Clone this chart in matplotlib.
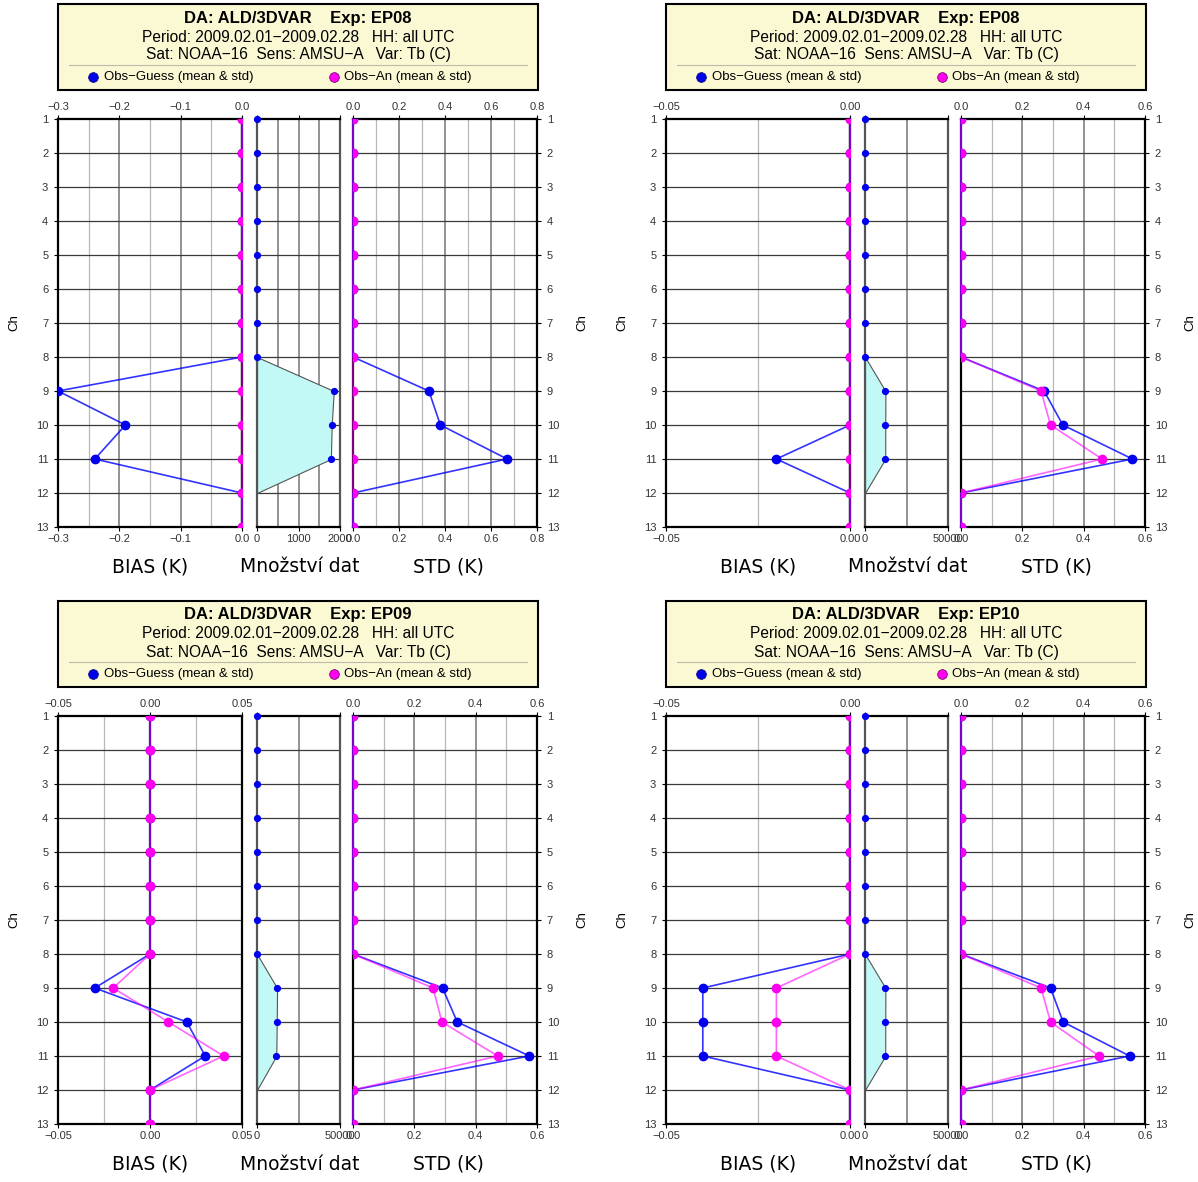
import numpy as np
import matplotlib.pyplot as plt
from matplotlib.patches import Rectangle
from matplotlib.lines import Line2D

W, H = 1198, 1182
channels = np.arange(1, 14)

experiments = ['EP08', 'EP08', 'EP09', 'EP10']

# EP08 (first run, top left)
bias_guess_a = [0, 0, 0, 0, 0, 0, 0, 0, -0.30, -0.19, -0.24, 0, 0]
bias_an_a = [0, 0, 0, 0, 0, 0, 0, 0, 0, 0, 0, 0, 0]
count_a = [0, 0, 0, 0, 0, 0, 0, 0, 1850, 1800, 1780, 0, 0]
std_guess_a = [0, 0, 0, 0, 0, 0, 0, 0, 0.33, 0.38, 0.67, 0, 0]
std_an_a = [0, 0, 0, 0, 0, 0, 0, 0, 0, 0, 0, 0, 0]

# EP08 (top right)
bias_guess_b = [0, 0, 0, 0, 0, 0, 0, 0, 0, 0, -0.020, 0, 0]
bias_an_b = [0, 0, 0, 0, 0, 0, 0, 0, 0, 0, 0, 0, 0]
count_b = [0, 0, 0, 0, 0, 0, 0, 0, 12300, 12200, 12200, 0, 0]
std_guess_b = [0, 0, 0, 0, 0, 0, 0, 0, 0.271, 0.332, 0.559, 0, 0]
std_an_b = [0, 0, 0, 0, 0, 0, 0, 0, 0.261, 0.292, 0.460, 0, 0]

# EP09 (bottom left)
bias_guess_c = [0, 0, 0, 0, 0, 0, 0, 0, -0.030, 0.020, 0.030, 0, 0]
bias_an_c = [0, 0, 0, 0, 0, 0, 0, 0, -0.020, 0.010, 0.040, 0, 0]
count_c = [0, 0, 0, 0, 0, 0, 0, 0, 12100, 11900, 11600, 0, 0]
std_guess_c = [0, 0, 0, 0, 0, 0, 0, 0, 0.292, 0.340, 0.575, 0, 0]
std_an_c = [0, 0, 0, 0, 0, 0, 0, 0, 0.261, 0.290, 0.472, 0, 0]

# EP10 (bottom right)
bias_guess_d = [0, 0, 0, 0, 0, 0, 0, 0, -0.040, -0.040, -0.040, 0, 0]
bias_an_d = [0, 0, 0, 0, 0, 0, 0, 0, -0.020, -0.020, -0.020, 0, 0]
count_d = [0, 0, 0, 0, 0, 0, 0, 0, 12300, 12200, 12200, 0, 0]
std_guess_d = [0, 0, 0, 0, 0, 0, 0, 0, 0.292, 0.333, 0.550, 0, 0]
std_an_d = [0, 0, 0, 0, 0, 0, 0, 0, 0.261, 0.292, 0.450, 0, 0]

# axis setups: limits, labelled ticks, light grid
bias_setups = [
    ((-0.3, 0.0), [-0.3, -0.2, -0.1, 0.0], ['−0.3', '−0.2', '−0.1', '0.0'], [-0.25, -0.15, -0.05]),
    ((-0.05, 0.0), [-0.05, 0.0], ['−0.05', '0.00'], [-0.025]),
    ((-0.05, 0.05), [-0.05, 0.0, 0.05], ['−0.05', '0.00', '0.05'], [-0.025, 0.025]),
    ((-0.05, 0.0), [-0.05, 0.0], ['−0.05', '0.00'], [-0.025]),
]
count_setups = [
    ((0, 2000), [0, 1000, 2000], ['0', '1000', '2000'], [500, 1000, 1500]),
    ((0, 50000), [0, 50000], ['0', '50000'], [25000]),
    ((0, 50000), [0, 50000], ['0', '50000'], [25000]),
    ((0, 50000), [0, 50000], ['0', '50000'], [25000]),
]
std_setups = [
    ((0, 0.8), [0, 0.2, 0.4, 0.6, 0.8], ['0.0', '0.2', '0.4', '0.6', '0.8'], [0.1, 0.3, 0.5, 0.7]),
    ((0, 0.6), [0, 0.2, 0.4, 0.6], ['0.0', '0.2', '0.4', '0.6'], [0.1, 0.3, 0.5]),
    ((0, 0.6), [0, 0.2, 0.4, 0.6], ['0.0', '0.2', '0.4', '0.6'], [0.1, 0.3, 0.5]),
    ((0, 0.6), [0, 0.2, 0.4, 0.6], ['0.0', '0.2', '0.4', '0.6'], [0.1, 0.3, 0.5]),
]

panels = [
    (bias_guess_a, bias_an_a, count_a, std_guess_a, std_an_a),
    (bias_guess_b, bias_an_b, count_b, std_guess_b, std_an_b),
    (bias_guess_c, bias_an_c, count_c, std_guess_c, std_an_c),
    (bias_guess_d, bias_an_d, count_d, std_guess_d, std_an_d),
]
offsets = [(0, 0), (608, 0), (0, 597), (608, 597)]

BLUE = '#0000ff'
MAG = '#ff00ff'
FONT = 'Liberation Sans'

fig = plt.figure(figsize=(W / 100, H / 100), dpi=100)


def fx(x):
    return x / W


def fy(y):
    return 1 - y / H


def make_ax(ox, oy, x0, x1):
    return fig.add_axes([fx(ox + x0), fy(oy + 527), (x1 - x0) / W, 408 / H])


def base_style(ax, lim, ticks, labels, light, dark_grid=None):
    ax.set_xlim(*lim)
    ax.set_ylim(13, 1)
    for c in channels[1:-1]:
        ax.axhline(c, color='#3a3a3a', lw=0.9, zorder=1)
    for g in light:
        ax.axvline(g, color='#b8b8b8', lw=0.9, zorder=0.8)
    for g in (dark_grid or []):
        ax.axvline(g, color='#8a8a8a', lw=1.3, zorder=0.9)
    ax.set_xticks(ticks)
    ax.set_xticklabels(labels, fontfamily=FONT, fontsize=8, color='#333333')
    ax.tick_params(axis='x', direction='out', length=3, width=0.8, pad=2,
                   top=True, labeltop=True, bottom=True, labelbottom=True)
    ax.set_yticks(channels)
    ax.set_yticklabels([str(c) for c in channels], fontfamily=FONT, fontsize=8, color='#333333')
    ax.tick_params(axis='y', direction='out', length=3, width=0.8, pad=4)
    for s in ax.spines.values():
        s.set_linewidth(1.6)
        s.set_color('black')


def profile(ax, guess, an, ms):
    # lines stay visible on the frame, markers get cut at the frame
    ax.plot(guess, channels, color=BLUE, alpha=0.8, lw=1.2, zorder=3, clip_on=False)
    ax.plot(an, channels, color=MAG, alpha=0.6, lw=1.2, zorder=4, clip_on=False)
    ax.plot(guess, channels, 'o', color='#0000ee', ms=ms, zorder=5)
    ax.plot(an, channels, 'o', color='#ff00ee', ms=ms, zorder=6)


for k in range(4):
    ox, oy = offsets[k]
    bg, ba, cnt, sg, sa = panels[k]

    # ---- title box
    fig.add_artist(Rectangle((fx(ox + 58), fy(oy + 90)), 480 / W, 86 / H,
                             transform=fig.transFigure, facecolor='#fbf9d4',
                             edgecolor='black', lw=1.5))
    cx = fx(ox + 298)
    fig.text(cx, fy(oy + 18), 'DA: ALD/3DVAR    Exp: ' + experiments[k], ha='center', va='center',
             fontfamily=FONT, fontsize=12, fontweight='bold')
    fig.text(cx, fy(oy + 37), 'Period: 2009.02.01−2009.02.28   HH: all UTC', ha='center',
             va='center', fontfamily=FONT, fontsize=11.2)
    fig.text(cx, fy(oy + 55), 'Sat: NOAA−16  Sens: AMSU−A   Var: Tb (C)', ha='center',
             va='center', fontfamily=FONT, fontsize=11.2)
    fig.add_artist(Line2D([fx(ox + 69), fx(ox + 527)], [fy(oy + 65), fy(oy + 65)],
                          transform=fig.transFigure, color='#bbbbaa', lw=0.8))
    fig.add_artist(Line2D([fx(ox + 93)], [fy(oy + 77)], transform=fig.transFigure, marker='o',
                          ms=7, color='#0000ee', mec='#000066', mew=0.5))
    fig.text(fx(ox + 104), fy(oy + 77), 'Obs−Guess (mean & std)', ha='left', va='center',
             fontfamily=FONT, fontsize=9.5)
    fig.add_artist(Line2D([fx(ox + 334)], [fy(oy + 77)], transform=fig.transFigure, marker='o',
                          ms=7, color='#ff00ee', mec='#660066', mew=0.5))
    fig.text(fx(ox + 344), fy(oy + 77), 'Obs−An (mean & std)', ha='left', va='center',
             fontfamily=FONT, fontsize=9.5)

    # ---- BIAS panel
    lim, ticks, labels, light = bias_setups[k]
    ax1 = make_ax(ox, oy, 58, 242)
    base_style(ax1, lim, ticks, labels, light, dark_grid=ticks)
    ax1.axvline(0, color='black', lw=1.6, zorder=2)
    profile(ax1, bg, ba, 6)
    ax1.tick_params(axis='y', left=True, labelleft=True, right=False)

    # ---- count panel
    lim, ticks, labels, grid = count_setups[k]
    ax2 = make_ax(ox, oy, 257, 340)
    base_style(ax2, lim, ticks, labels, [], dark_grid=grid)
    ax2.tick_params(axis='x', labeltop=False)
    ax2.tick_params(axis='y', left=False, labelleft=False)
    ax2.spines['left'].set_color('#555555')
    ax2.spines['right'].set_color('#555555')
    cnt = np.array(cnt)
    nz = np.nonzero(cnt)[0]
    lo, hi = nz[0] - 1, nz[-1] + 1
    ax2.fill_betweenx(channels[lo:hi + 1], 0, cnt[lo:hi + 1], facecolor='#c2f8f6',
                      edgecolor='#555555', lw=0.8, zorder=2)
    ax2.plot(cnt[:nz[-1] + 1], channels[:nz[-1] + 1], 'o', color='#0000ee', ms=4.2,
             zorder=5, clip_on=False)

    # ---- STD panel
    lim, ticks, labels, light = std_setups[k]
    ax3 = make_ax(ox, oy, 353, 537)
    base_style(ax3, lim, ticks, labels, light, dark_grid=ticks)
    profile(ax3, sg, sa, 6)
    ax3.tick_params(axis='y', left=False, labelleft=False, right=True, labelright=True)

    # ---- labels
    fig.text(fx(ox + 14), fy(oy + 323), 'Ch', rotation=90, ha='center', va='center',
             fontfamily=FONT, fontsize=9.5)
    fig.text(fx(ox + 582), fy(oy + 323), 'Ch', rotation=90, ha='center', va='center',
             fontfamily=FONT, fontsize=9.5)
    fig.text(fx(ox + 150), fy(oy + 567), 'BIAS (K)', ha='center', va='center', fontsize=13.5)
    fig.text(fx(ox + 300), fy(oy + 567), 'Množství dat', ha='center', va='center', fontsize=13.5)
    fig.text(fx(ox + 448), fy(oy + 567), 'STD (K)', ha='center', va='center', fontsize=13.5)

fig.savefig('out.png', dpi=100)
